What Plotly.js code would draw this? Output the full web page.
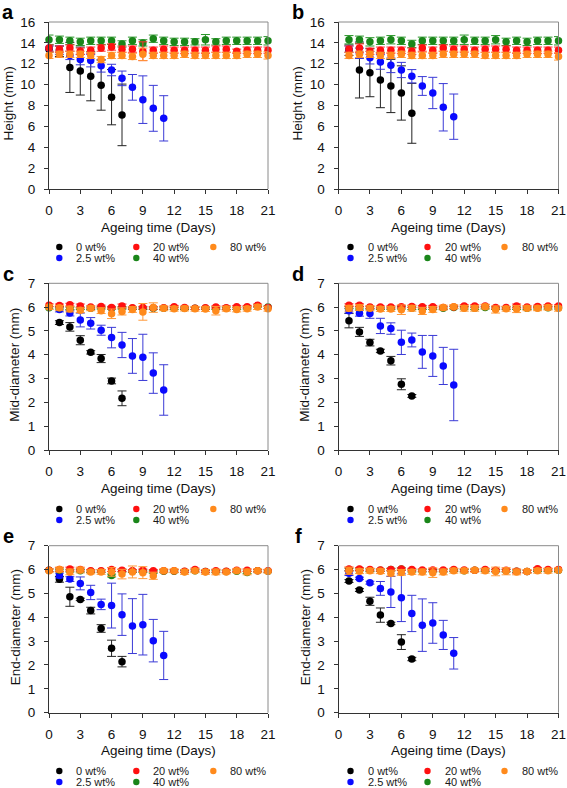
<!DOCTYPE html>
<html>
<head>
<meta charset="utf-8">
<script src="https://cdn.plot.ly/plotly-3.0.1.min.js"></script>
<style>html,body{margin:0;padding:0;background:#fff;}#chart{width:567px;height:788px;}</style>
</head>
<body>
<div id="chart"></div>
<script>
// ---------------- DATA ----------------
const days = [0,1,2,3,4,5,6,7,8,9,10,11,12,13,14,15,16,17,18,19,20,21];
const seriesNames = ['0 wt%','2.5 wt%','20 wt%','40 wt%','80 wt%'];
const panelLetters = ['a','b','c','d','e','f'];
const yTitles = ['Height (mm)','Height (mm)','Mid-diameter (mm)','Mid-diameter (mm)','End-diameter (mm)','End-diameter (mm)'];
const xTitle = 'Ageing time (Days)';

// Panel a (Height) – black/blue start day 0, others day 0
const aBlack = [13.4,13.2,11.65,11.3,10.8,9.95,8.8,7.1];
const aBlackErr = [0.3,0.5,2.4,2.3,2.35,2.4,2.65,2.95];
const aBlue = [13.5,13.3,12.8,12.4,12.3,11.8,11.4,10.6,9.74,8.56,7.73,6.77];
const aBlueErr = [0.3,0.4,0.4,0.5,0.6,0.6,0.55,0.7,1.23,2.28,2.2,2.17];
const aRed = [13.5,13.4,13.5,13.2,13.3,13.5,13.6,13.4,13.4,13.2,13.3,13.4,13.3,13.3,13.3,13.3,13.4,13.4,13.2,13.3,13.3,13.3];
const aRedErr = [0.3,0.3,0.3,0.3,0.3,0.3,0.3,0.3,0.3,0.9,0.3,0.3,0.3,0.3,0.3,0.3,0.3,0.3,0.2,0.3,0.3,0.3];
const aGreen = [14.3,14.3,14.2,14.1,14.2,14.2,14.2,13.9,14.2,14.0,14.4,14.2,14.1,14.1,14.1,14.3,14.1,14.2,14.2,14.2,14.2,14.2];
const aGreenErr = [0.45,0.35,0.35,0.35,0.35,0.35,0.35,0.3,0.35,0.3,0.35,0.35,0.35,0.35,0.3,0.5,0.3,0.35,0.35,0.35,0.35,0.4];
const aOrange = [12.8,12.9,12.9,12.9,12.8,12.4,12.8,12.8,12.7,12.9,12.8,12.8,12.8,12.9,12.8,12.8,12.8,12.8,12.8,12.9,12.9,12.8];
const aOrangeErr = [0.3,0.3,0.3,0.3,0.3,0.3,0.3,0.3,0.3,0.6,0.3,0.3,0.3,0.3,0.3,0.3,0.3,0.3,0.3,0.3,0.3,0.35];

// Panel b (Height) – all start day 1
const bBlack = [13.3,11.4,11.14,10.44,9.87,9.2,7.25];
const bBlackErr = [0.5,2.68,2.3,2.65,2.55,2.6,2.87];
const bBlue = [13.4,13.0,12.58,12.17,11.85,11.4,10.8,9.87,9.2,7.83,6.93];
const bBlueErr = [0.3,0.5,0.6,0.7,0.7,0.73,0.64,0.9,1.5,2.27,2.17];
const bRed = [13.4,13.5,13.2,13.3,13.3,13.3,13.2,13.5,13.3,13.5,13.4,13.4,13.3,13.4,13.4,13.4,13.3,13.3,13.3,13.3,13.3];
const bRedErr = [0.3,0.4,0.3,0.3,0.3,0.3,0.3,0.3,0.3,0.3,0.3,0.3,0.3,0.3,0.3,0.3,0.3,0.3,0.3,0.3,0.3];
const bGreen = [14.3,14.3,14.1,14.2,14.3,14.2,13.9,14.2,14.2,14.2,14.2,14.3,14.2,14.2,14.3,14.1,14.2,14.1,14.2,14.2,14.2];
const bGreenErr = [0.4,0.35,0.4,0.35,0.4,0.35,0.35,0.35,0.35,0.35,0.35,0.45,0.35,0.35,0.4,0.35,0.35,0.35,0.35,0.35,0.4];
const bOrange = [12.8,12.9,12.9,12.8,12.8,12.9,12.8,12.8,12.8,12.9,12.9,12.9,12.9,12.8,12.8,12.8,12.8,12.9,12.9,12.9,12.7];
const bOrangeErr = [0.3,0.3,0.3,0.3,0.3,0.3,0.3,0.3,0.3,0.3,0.3,0.3,0.3,0.3,0.3,0.3,0.3,0.3,0.3,0.3,0.35];

// Panel c (Mid-diameter) – black/blue start day 1, others day 0
const cBlack = [5.35,5.17,4.61,4.10,3.84,2.90,2.17];
const cBlackErr = [0.08,0.18,0.19,0.07,0.17,0.12,0.31];
const cBlue = [5.9,5.75,5.46,5.32,5.03,4.72,4.41,3.95,3.89,3.23,2.52];
const cBlueErr = [0.1,0.12,0.29,0.24,0.21,0.43,0.53,0.73,0.97,0.85,1.06];
const cRed = [6.08,6.07,6.1,6.05,6.0,6.03,5.98,6.05,5.97,5.98,5.97,5.97,6.02,5.98,5.95,5.97,6.0,5.97,6.02,6.02,6.08,5.98];
const cRedErr = [0.06,0.06,0.06,0.08,0.05,0.05,0.05,0.08,0.05,0.05,0.05,0.05,0.05,0.05,0.05,0.05,0.05,0.08,0.05,0.05,0.05,0.05];
const cGreen = [5.97,5.97,5.95,5.95,5.95,5.97,5.95,5.97,5.95,5.95,5.95,5.95,5.95,5.95,5.95,5.95,5.95,5.95,5.95,5.97,6.05,6.0];
const cGreenErr = [0.05,0.05,0.05,0.05,0.05,0.05,0.05,0.05,0.05,0.05,0.05,0.05,0.05,0.05,0.05,0.05,0.05,0.05,0.05,0.05,0.05,0.05];
const cOrange = [6.0,5.97,5.92,5.87,5.95,5.85,5.72,5.82,5.9,5.8,5.98,5.95,5.93,5.94,5.93,5.92,5.85,5.93,5.9,5.93,6.0,5.93];
const cOrangeErr = [0.1,0.1,0.12,0.1,0.1,0.12,0.2,0.15,0.12,0.35,0.2,0.1,0.1,0.1,0.1,0.1,0.18,0.1,0.1,0.1,0.1,0.1];

// Panel d (Mid-diameter) – all start day 1
const dBlack = [5.43,4.96,4.51,4.16,3.75,2.76,2.27];
const dBlackErr = [0.3,0.19,0.14,0.07,0.18,0.23,0.06];
const dBlue = [5.85,5.74,5.73,5.21,5.10,4.52,4.62,4.12,3.95,3.53,2.73];
const dBlueErr = [0.1,0.12,0.2,0.32,0.24,0.51,0.29,0.69,0.86,0.78,1.5];
const dRed = [6.08,6.08,6.0,6.0,6.0,6.02,6.03,6.02,6.02,5.98,6.0,6.05,6.05,6.05,5.98,5.98,6.05,6.0,6.03,6.05,6.05];
const dRedErr = [0.06,0.06,0.05,0.05,0.05,0.05,0.05,0.05,0.05,0.05,0.05,0.05,0.05,0.05,0.05,0.05,0.08,0.05,0.05,0.05,0.05];
const dGreen = [5.98,5.97,5.97,5.95,5.95,5.97,5.95,5.95,5.95,5.95,5.98,5.97,5.95,5.98,5.95,5.95,5.95,5.95,5.97,5.97,5.97];
const dGreenErr = [0.05,0.05,0.05,0.05,0.05,0.05,0.05,0.05,0.05,0.05,0.05,0.05,0.05,0.05,0.05,0.05,0.05,0.05,0.05,0.05,0.05];
const dOrange = [5.95,5.98,5.95,5.92,5.92,5.89,5.95,5.84,5.9,5.98,6.02,5.95,5.95,6.02,5.9,5.93,5.92,5.95,5.95,5.98,5.95];
const dOrangeErr = [0.12,0.12,0.1,0.1,0.1,0.2,0.12,0.15,0.12,0.1,0.08,0.12,0.12,0.1,0.15,0.1,0.15,0.1,0.1,0.1,0.12];

// Panel e (End-diameter) – black/blue start day 1, others day 0
const eBlack = [5.59,4.86,4.75,4.28,3.53,2.70,2.14];
const eBlackErr = [0.12,0.4,0.05,0.14,0.16,0.34,0.22];
const eBlue = [5.75,5.6,5.42,5.04,4.54,4.49,4.11,3.63,3.69,3.02,2.40];
const eBlueErr = [0.1,0.1,0.27,0.3,0.22,0.94,0.87,1.15,1.27,0.89,1.01];
const eRed = [5.97,6.0,6.02,6.0,5.95,5.95,6.0,5.97,5.95,5.97,5.95,5.95,5.95,5.93,6.0,5.92,5.95,5.93,5.97,5.97,5.95,5.95];
const eRedErr = [0.06,0.08,0.08,0.06,0.05,0.05,0.08,0.05,0.05,0.05,0.05,0.05,0.05,0.05,0.06,0.05,0.05,0.05,0.05,0.05,0.05,0.05];
const eGreen = [5.97,5.97,5.95,5.95,5.93,5.93,5.75,5.95,5.93,5.93,5.9,5.93,5.93,5.92,5.95,5.92,5.92,5.92,5.93,5.88,5.95,5.93];
const eGreenErr = [0.05,0.05,0.05,0.05,0.05,0.05,0.06,0.05,0.05,0.05,0.05,0.05,0.05,0.05,0.05,0.05,0.05,0.05,0.05,0.05,0.05,0.05];
const eOrange = [5.95,6.0,5.9,5.98,5.9,5.9,5.9,5.81,5.9,5.87,5.74,5.95,5.95,5.9,5.95,5.9,5.9,5.9,5.95,5.9,5.95,5.93];
const eOrangeErr = [0.08,0.1,0.12,0.12,0.08,0.1,0.18,0.2,0.25,0.25,0.15,0.08,0.08,0.1,0.08,0.1,0.12,0.08,0.08,0.12,0.08,0.08];

// Panel f (End-diameter) – all start day 1
const fBlack = [5.52,5.14,4.67,4.09,3.74,2.96,2.25];
const fBlackErr = [0.06,0.06,0.17,0.3,0.05,0.31,0.07];
const fBlue = [5.85,5.63,5.45,5.21,5.06,4.82,4.16,3.67,3.76,3.26,2.49];
const fBlueErr = [0.1,0.05,0.06,0.29,0.65,1.0,0.76,1.1,0.85,0.61,0.66];
const fRed = [6.02,6.02,6.0,5.98,6.0,6.02,6.0,5.98,5.98,5.98,6.0,5.98,5.97,6.0,5.97,5.97,5.93,5.92,6.03,6.0,6.0];
const fRedErr = [0.08,0.06,0.05,0.05,0.05,0.05,0.05,0.05,0.05,0.05,0.05,0.05,0.05,0.05,0.05,0.05,0.08,0.05,0.06,0.05,0.05];
const fGreen = [6.0,6.0,5.97,5.97,6.0,6.02,5.95,5.95,5.95,5.95,5.97,5.95,5.97,5.97,5.95,5.95,5.93,5.92,5.97,5.97,5.97];
const fGreenErr = [0.05,0.05,0.05,0.05,0.05,0.05,0.05,0.05,0.05,0.05,0.05,0.05,0.05,0.05,0.05,0.05,0.05,0.05,0.05,0.05,0.05];
const fOrange = [5.95,5.93,5.95,5.93,5.85,5.88,5.9,5.9,5.87,5.9,5.95,5.95,5.97,5.95,5.92,5.93,5.9,5.92,5.95,5.95,5.97];
const fOrangeErr = [0.15,0.1,0.1,0.1,0.12,0.12,0.1,0.12,0.2,0.12,0.1,0.1,0.08,0.1,0.18,0.15,0.12,0.08,0.1,0.1,0.1];

// ---------------- STYLE ----------------
const W = 567, H = 788;
const FONT = 'Liberation Sans, Arial, sans-serif';
const colors = {black:'#000000', blue:'#0a0aff', red:'#ff1010', green:'#1a861a', orange:'#ff8a1c'};
const errColors = {black:'#222222', blue:'#3a3ad6', red:'#ff3030', green:'#2a962a', orange:'#ff9a3a'};
const px = v => v / W;
const py = v => 1 - v / H;

// panel geometry in pixels [left, right, top, bottom]
const RX = 338.5; // right column left edge
const geom = [
  [49, 268, 22, 189], [RX, RX + 220, 22, 189],
  [49, 268, 283.3, 450], [RX, RX + 220, 283.3, 450],
  [49, 268, 545.7, 712.7], [RX, RX + 220, 545.7, 712.7]
];
const yRanges = [[0,16],[0,16],[0,7],[0,7],[0,7],[0,7]];
const yDticks = [2,2,1,1,1,1];

const panelData = [
  {black:[aBlack,aBlackErr,0], blue:[aBlue,aBlueErr,0], green:[aGreen,aGreenErr,0], red:[aRed,aRedErr,0], orange:[aOrange,aOrangeErr,0]},
  {black:[bBlack,bBlackErr,1], blue:[bBlue,bBlueErr,1], green:[bGreen,bGreenErr,1], red:[bRed,bRedErr,1], orange:[bOrange,bOrangeErr,1]},
  {black:[cBlack,cBlackErr,1], blue:[cBlue,cBlueErr,1], green:[cGreen,cGreenErr,0], red:[cRed,cRedErr,0], orange:[cOrange,cOrangeErr,0]},
  {black:[dBlack,dBlackErr,1], blue:[dBlue,dBlueErr,1], green:[dGreen,dGreenErr,1], red:[dRed,dRedErr,1], orange:[dOrange,dOrangeErr,1]},
  {black:[eBlack,eBlackErr,1], blue:[eBlue,eBlueErr,1], green:[eGreen,eGreenErr,0], red:[eRed,eRedErr,0], orange:[eOrange,eOrangeErr,0]},
  {black:[fBlack,fBlackErr,1], blue:[fBlue,fBlueErr,1], green:[fGreen,fGreenErr,1], red:[fRed,fRedErr,1], orange:[fOrange,fOrangeErr,1]}
];
const nameOf = {black:seriesNames[0], blue:seriesNames[1], red:seriesNames[2], green:seriesNames[3], orange:seriesNames[4]};
const drawOrder = ['black','blue','green','red','orange'];

const traces = [];
const layout = {
  width: W, height: H,
  margin: {l:0, r:0, t:0, b:0},
  paper_bgcolor: '#ffffff', plot_bgcolor: '#ffffff',
  showlegend: false,
  font: {family: FONT, color: '#1a1a1a'},
  shapes: [], annotations: []
};

panelData.forEach((pd, i) => {
  const n = i === 0 ? '' : String(i + 1);
  const g = geom[i];
  drawOrder.forEach(key => {
    const [ys, es, start] = pd[key];
    traces.push({
      type: 'scatter', mode: 'markers', name: nameOf[key],
      x: days.slice(start, start + ys.length), y: ys,
      error_y: {type: 'data', array: es, visible: true, color: errColors[key], thickness: 1, width: 4.5},
      marker: {color: colors[key], size: 7.5},
      cliponaxis: false,
      xaxis: 'x' + n, yaxis: 'y' + n, hoverinfo: 'x+y'
    });
  });
  const axBase = {
    ticks: 'outside', ticklen: 4, tickwidth: 1, tickcolor: '#333',
    showline: true, linecolor: '#333', linewidth: 1,
    showgrid: false, zeroline: false, fixedrange: true,
    ticklabeloverflow: 'allow',
    tickfont: {family: FONT, size: 13.5, color: '#111'}
  };
  layout['xaxis' + n] = Object.assign({}, axBase, {
    domain: [px(g[0]), px(g[1])], anchor: 'y' + n,
    range: [0, 21], tick0: 0, dtick: 3, ticklabelstandoff: 5
  });
  layout['yaxis' + n] = Object.assign({}, axBase, {
    domain: [py(g[3]), py(g[2])], anchor: 'x' + n,
    range: yRanges[i], tick0: 0, dtick: yDticks[i], ticklabelstandoff: 6
  });
  // top / right frame
  layout.shapes.push({type:'line', xref:'x'+n+' domain', yref:'y'+n+' domain', x0:0, x1:1, y0:1, y1:1, line:{color:'#8a8a8a', width:1}});
  layout.shapes.push({type:'line', xref:'x'+n+' domain', yref:'y'+n+' domain', x0:1, x1:1, y0:0, y1:1, line:{color:'#8a8a8a', width:1}});

  const isLeft = (i % 2 === 0);
  const row = Math.floor(i / 2);
  // panel letter
  layout.annotations.push({
    text: '<b>' + panelLetters[i] + '</b>', xref:'paper', yref:'paper',
    x: px(isLeft ? 8 : 298), y: py([12, 274, 536][row]), xanchor:'center', yanchor:'middle',
    showarrow:false, font:{family: FONT, size: 20, color:'#000'}
  });
  // y title
  const ytx = isLeft ? (i < 2 ? 8 : 15) : (i < 2 ? 297 : 305);
  layout.annotations.push({
    text: yTitles[i], xref:'paper', yref:'paper', textangle: -90,
    x: px(ytx), y: py((g[2] + g[3]) / 2 - 2), xanchor:'center', yanchor:'middle',
    showarrow:false, font:{family: FONT, size: 13.5, color:'#111'}
  });
  // x title
  layout.annotations.push({
    text: xTitle, xref:'paper', yref:'paper',
    x: px((g[0] + g[1]) / 2), y: py([227, 488, 750][row]), xanchor:'center', yanchor:'middle',
    showarrow:false, font:{family: FONT, size: 13.5, color:'#111'}
  });
  // legend (two rows, three columns, column-major order)
  const lx0 = isLeft ? 59.3 : 350.5;
  const ly0 = [247, 509, 771][row];
  const slots = {black:[0,0], blue:[0,1], red:[1,0], green:[1,1], orange:[2,0]};
  Object.keys(slots).forEach(key => {
    const [c, r] = slots[key];
    const cx = lx0 + c * 77;
    const cy = ly0 + r * 11;
    layout.shapes.push({
      type:'circle', xref:'paper', yref:'paper', xsizemode:'pixel', ysizemode:'pixel',
      xanchor: px(cx), yanchor: py(cy), x0:-3.2, x1:3.2, y0:-3.2, y1:3.2,
      fillcolor: colors[key], line:{width:0}
    });
    layout.annotations.push({
      text: nameOf[key], xref:'paper', yref:'paper', x: px(cx + 15), y: py(cy),
      xanchor:'left', yanchor:'middle', showarrow:false,
      font:{family: FONT, size: 11, color:'#1a1a1a'}
    });
  });
});

Plotly.newPlot('chart', traces, layout, {staticPlot: true, displayModeBar: false});
</script>
</body>
</html>
